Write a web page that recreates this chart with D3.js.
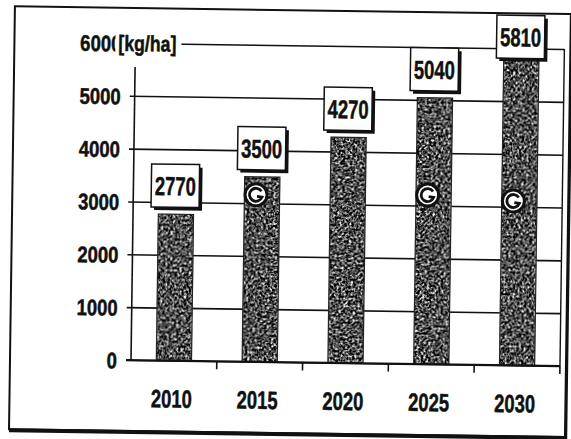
<!DOCTYPE html>
<html>
<head>
<meta charset="utf-8">
<script src="https://cdn.jsdelivr.net/npm/d3@7"></script>
<style>
  html, body { margin: 0; padding: 0; background: #fff; }
  svg { display: block; }
  text { font-family: "Liberation Sans", Arial, sans-serif; font-weight: bold; fill: #111; stroke: #111; stroke-width: 0.5px; }
</style>
</head>
<body>
<svg id="chart" width="571" height="439"></svg>
<script>
// Data
const years = ["2010", "2015", "2020", "2025", "2030"];
const yields = [2770, 3500, 4270, 5040, 5810];
// white round markers sitting inside some bars
const markerValues = [null, 3160, null, 3200, 3110];
const yTicks = [0, 1000, 2000, 3000, 4000, 5000, 6000];
const unitLabel = "[kg/ha]";

// Layout (unrotated; the scan is tilted a little clockwise)
const W = 571, H = 439;
const plot = { left: 131, right: 560, top: 43, bottom: 360 };
const TILT = 0.8;

const svg = d3.select("#chart");

// speckled fill for bars
const defs = svg.append("defs");
const f = defs.append("filter")
  .attr("id", "speckle")
  .attr("x", 0).attr("y", 0).attr("width", 1).attr("height", 1)
  .attr("color-interpolation-filters", "sRGB");
f.append("feTurbulence")
  .attr("type", "fractalNoise")
  .attr("baseFrequency", 0.42)
  .attr("numOctaves", 2)
  .attr("seed", 7)
  .attr("result", "n");
f.append("feColorMatrix")
  .attr("in", "n")
  .attr("type", "matrix")
  .attr("values", "1.5 1.5 1.5 0 -1.95  1.5 1.5 1.5 0 -1.95  1.5 1.5 1.5 0 -1.95  0 0 0 0 1")
  .attr("result", "g");
f.append("feComposite").attr("in", "g").attr("in2", "SourceGraphic").attr("operator", "in");

svg.append("rect").attr("width", W).attr("height", H).attr("fill", "#fff");

const g = svg.append("g")
  .attr("transform", `rotate(${TILT}, ${plot.left}, ${plot.bottom})`);

// outer frame
g.append("rect")
  .attr("x", 10).attr("y", 8)
  .attr("width", 556).attr("height", 423)
  .attr("fill", "none").attr("stroke", "#111").attr("stroke-width", 2);
g.append("line")
  .attr("x1", 10).attr("x2", 567).attr("y1", 432).attr("y2", 432)
  .attr("stroke", "#111").attr("stroke-width", 4);
g.append("line")
  .attr("x1", 567).attr("x2", 567).attr("y1", 9).attr("y2", 433)
  .attr("stroke", "#111").attr("stroke-width", 2.5);

// Scales
const x = d3.scaleBand()
  .domain(years)
  .range([plot.left, plot.right])
  .paddingInner(0.59)
  .paddingOuter(0.295);

const y = d3.scaleLinear()
  .domain([0, 6000])
  .range([plot.bottom, plot.top]);

// Y axis with gridlines
const yAxis = d3.axisLeft(y)
  .tickValues(yTicks)
  .tickSize(-(plot.right - plot.left))
  .tickPadding(14)
  .tickFormat(d3.format("d"));

const ya = g.append("g")
  .attr("transform", `translate(${plot.left},0)`)
  .call(yAxis);
ya.select(".domain").remove();
ya.selectAll(".tick line")
  .attr("x1", -5)
  .attr("stroke", "#111")
  .attr("stroke-width", 1.6);
ya.selectAll(".tick text")
  .attr("font-size", 22.5)
  .attr("dy", "0.36em")
  .attr("fill", "#111")
  .each(function (d) {
    const s = String(d);
    d3.select(this)
      .attr("textLength", s.length * 10.3)
      .attr("lengthAdjust", "spacingAndGlyphs");
  });

// y axis line and right border
g.append("line")
  .attr("x1", plot.left).attr("x2", plot.left)
  .attr("y1", plot.top).attr("y2", plot.bottom)
  .attr("stroke", "#111").attr("stroke-width", 1.6);
g.append("line")
  .attr("x1", plot.right).attr("x2", plot.right)
  .attr("y1", y(6000)).attr("y2", plot.bottom)
  .attr("stroke", "#111").attr("stroke-width", 1.4);

// Bars
g.append("g")
  .selectAll("rect")
  .data(yields)
  .join("rect")
  .attr("x", (d, i) => x(years[i]))
  .attr("y", d => y(d))
  .attr("width", x.bandwidth())
  .attr("height", d => y(0) - y(d))
  .attr("fill", "#555")
  .attr("filter", "url(#speckle)");
g.append("g")
  .selectAll("rect")
  .data(yields)
  .join("rect")
  .attr("x", (d, i) => x(years[i]))
  .attr("y", d => y(d))
  .attr("width", x.bandwidth())
  .attr("height", d => y(0) - y(d))
  .attr("fill", "none")
  .attr("stroke", "#222")
  .attr("stroke-width", 1.2);

// X axis line, ticks on band boundaries, labels at band centres
g.append("line")
  .attr("x1", plot.left - 5).attr("x2", plot.right)
  .attr("y1", y(0)).attr("y2", y(0))
  .attr("stroke", "#111").attr("stroke-width", 2);
g.append("g")
  .selectAll("line")
  .data(years)
  .join("line")
  .attr("x1", d => x(d) - x.step() * x.paddingOuter() + x.step())
  .attr("x2", d => x(d) - x.step() * x.paddingOuter() + x.step())
  .attr("y1", y(0)).attr("y2", y(0) + 8)
  .attr("stroke", "#111").attr("stroke-width", 1.6);
g.append("g")
  .selectAll("text")
  .data(years)
  .join("text")
  .attr("x", d => x(d) + x.bandwidth() / 2 - 2)
  .attr("y", y(0) + 47)
  .attr("text-anchor", "middle")
  .attr("font-size", 25)
  .attr("textLength", 41)
  .attr("lengthAdjust", "spacingAndGlyphs")
  .text(d => d);

// Round markers
const mk = g.append("g")
  .selectAll("g")
  .data(markerValues.map((v, i) => ({ v, year: years[i] })).filter(d => d.v != null))
  .join("g")
  .attr("transform", d => `translate(${x(d.year) + x.bandwidth() / 2 - 6},${y(d.v)})`);
mk.append("circle")
  .attr("r", 11)
  .attr("fill", "#fff")
  .attr("stroke", "#111")
  .attr("stroke-width", 3);
mk.append("path")
  .attr("d", () => {
    const p = d3.path();
    p.arc(0, 0, 6.5, -0.6, 0.35, true);
    p.lineTo(1, 1.5);
    return p.toString();
  })
  .attr("fill", "none")
  .attr("stroke", "#111")
  .attr("stroke-width", 2.8);

// Value boxes
const boxW = 48, boxH = 43;
const bx = g.append("g")
  .selectAll("g")
  .data(yields)
  .join("g")
  .attr("transform", (d, i) => {
    const cx = x(years[i]) + x.bandwidth() / 2 - 1;
    const top = Math.max(y(d) - 7 - boxH, 10);
    return `translate(${cx - boxW / 2},${top})`;
  });
bx.append("rect")
  .attr("x", 3).attr("y", 3)
  .attr("width", boxW).attr("height", boxH)
  .attr("fill", "#111");
bx.append("rect")
  .attr("width", boxW).attr("height", boxH)
  .attr("fill", "#fff")
  .attr("stroke", "#111")
  .attr("stroke-width", 1.5);
bx.append("text")
  .attr("x", boxW / 2)
  .attr("y", boxH / 2 + 9.5)
  .attr("text-anchor", "middle")
  .attr("font-size", 26)
  .attr("textLength", 41)
  .attr("lengthAdjust", "spacingAndGlyphs")
  .text(d => d);

// Unit label covering the top of the axis
g.append("rect")
  .attr("x", 111).attr("y", 26)
  .attr("width", 66).attr("height", 41)
  .attr("fill", "#fff");
g.append("text")
  .attr("x", 114)
  .attr("y", y(6000) + 8)
  .attr("font-size", 22)
  .attr("textLength", 58)
  .attr("lengthAdjust", "spacingAndGlyphs")
  .text(unitLabel);
</script>
</body>
</html>
